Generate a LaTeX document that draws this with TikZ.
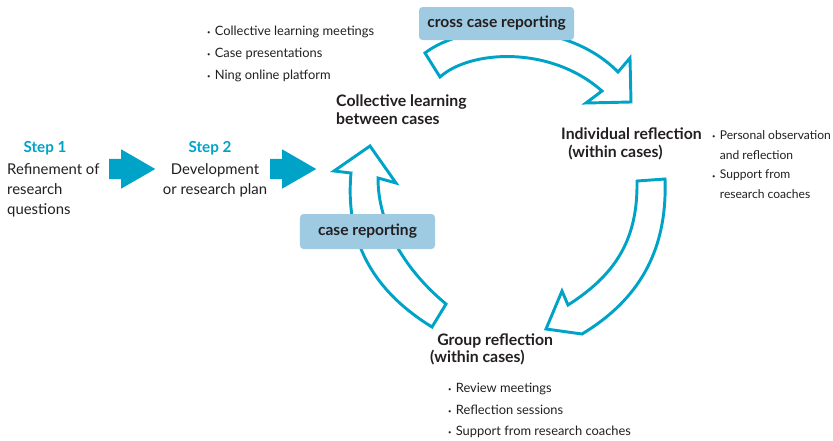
\documentclass[tikz,border=0pt]{standalone}
\usepackage{fontspec}
\setmainfont{Lato}
\usepackage{xcolor}
\usepackage{tikz}
\usetikzlibrary{shapes.arrows,positioning}
\definecolor{cycleteal}{HTML}{00A3C8}
\definecolor{reportblue}{HTML}{9ECBE2}
\definecolor{inktext}{HTML}{231F20}
\newcommand{\bul}{\makebox[6.5pt][l]{\raisebox{0.15ex}{\tiny\textbullet}}}
\newcommand{\bulgap}{\hspace*{6.5pt}}

\begin{document}
\begin{tikzpicture}[
  x=0.03cm, y=-0.03cm,
  font=\fontsize{12.7}{17}\selectfont, text=inktext,
  steplbl/.style={font=\fontsize{13}{16}\selectfont\bfseries, text=cycleteal},
  plain/.style={align=left, inner sep=0pt},
  phase/.style={font=\fontsize{13.5}{15}\selectfont\bfseries, align=left, inner sep=0pt},
  bullets/.style={font=\fontsize{11}{18.6}\selectfont, align=left, inner sep=0pt},
  repbox/.style={rounded corners=3pt, fill=reportblue, inner sep=0pt,
                 font=\fontsize{13.3}{15}\selectfont\bfseries},
  stepflow/.style={single arrow, fill=cycleteal, inner sep=0.3cm, minimum width=1.17cm,
                   minimum height=1.38cm, single arrow head extend=0.285cm,
                   single arrow tip angle=60, anchor=tail},
  hollow/.style={draw=cycleteal, line width=2.5pt, fill=white, line join=miter},
]
\useasboundingbox (0,0) rectangle (833,440);
% ----- steps -----
\node[steplbl] (s1) at (45,148) {Step 1};
\node[plain, anchor=north west] (s1txt) at (7,163) {Refinement of\\research\\questions};
\node[stepflow] (f1) at (109,169) {};
\node[steplbl] (s2) at (210,148) {Step 2};
\node[plain, align=center, anchor=north] (s2txt) at (215,163) {Development\\or research plan};
\node[stepflow] (f2) at (270,169) {};
% ----- cycle arrows -----
\draw[hollow] (425,53) .. controls (465,22) and (565,18) .. (618,72) -- (630,58) -- (631,102)
  -- (586,103) -- (602,91) .. controls (550,45) and (470,50) .. (440,77) -- cycle;
\draw[hollow] (637,181) -- (665,179) .. controls (668,260) and (630,305) .. (582,334)
  -- (546,329) -- (562,291) -- (568,305) .. controls (615,275) and (638,240) .. (637,181) -- cycle;
\draw[hollow] (432,327) .. controls (372,290) and (345,240) .. (351,173) -- (334,171) -- (370,146)
  -- (396,183) -- (378,178) .. controls (378,225) and (405,270) .. (446,304) -- cycle;
% ----- reporting boxes -----
\node[repbox, minimum width=4.65cm, minimum height=0.99cm] (cross) at (496.5,23.5) {cross case reporting};
\node[repbox, minimum width=4.05cm, minimum height=1.05cm] (caserep) at (367.5,231.5) {case reporting};
% ----- phases -----
\node[phase, anchor=north west] (coll) at (336,95) {Collective learning\\between cases};
\node[phase, anchor=north west] (indiv) at (561,128) {Individual reflection\\\hspace*{6pt}(within cases)};
\node[phase, anchor=north west] (group) at (430,333) {\hspace*{6pt}Group reflection\\(within cases)};
% ----- activities -----
\node[bullets, anchor=north west] (collact) at (207,26)
  {\bul Collective learning meetings\\\bul Case presentations\\\bul Ning online platform};
\node[bullets, font=\fontsize{10.3}{17}\selectfont, anchor=north west] (indivact) at (712,130)
  {\bul Personal observation\\\bulgap and reflection\\\bul Support from\\\bulgap research coaches};
\node[bullets, font=\fontsize{11}{18.3}\selectfont, anchor=north west] (groupact) at (448,383)
  {\bul Review meetings\\\bul Reflection sessions\\\bul Support from research coaches};
\end{tikzpicture}
\end{document}
